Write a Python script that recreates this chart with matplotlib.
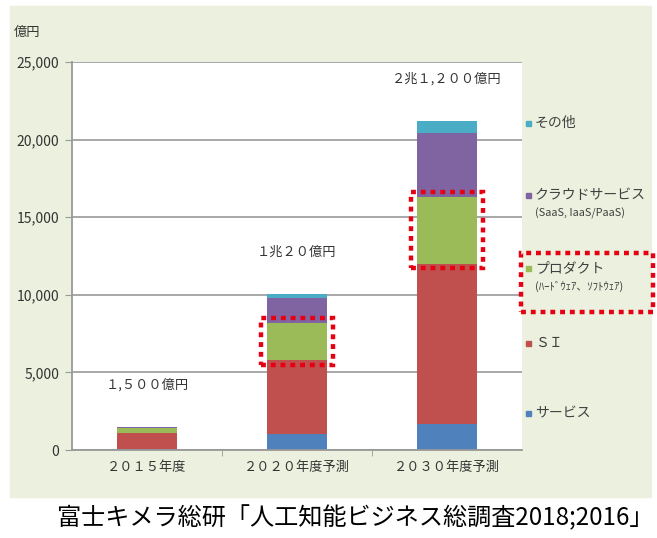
import matplotlib.pyplot as plt
from matplotlib.patches import Rectangle

plt.rcParams['font.family'] = ['Noto Sans CJK JP', 'DejaVu Sans']

# 市場規模（億円）
years = ['２０１５年度', '２０２０年度予測', '２０３０年度予測']
service = [50, 1000, 1700]
si = [1050, 4800, 10300]
product = [320, 2400, 4300]
cloud = [60, 1620, 4150]
other = [20, 200, 750]
totals = [1500, 10020, 21200]
total_labels = ['１,５００億円', '１兆２０億円', '２兆１,２００億円']

series = [
    ('サービス', service, '#4f81bd'),
    ('ＳＩ', si, '#c0504d'),
    ('プロダクト', product, '#9bbb59'),
    ('クラウドサービス', cloud, '#8064a2'),
    ('その他', other, '#4bacc6'),
]
legend_sub = {'クラウドサービス': '(SaaS, IaaS/PaaS)',
              'プロダクト': '(ﾊｰﾄﾞｳｪｱ、ｿﾌﾄｳｪｱ)'}

W, H = 657, 538
fig = plt.figure(figsize=(W / 100, H / 100), dpi=100)
fig.patch.set_facecolor('white')

# light green chart panel
fig.patches.append(Rectangle((10 / W, 41 / H), 641 / W, 491 / H,
                             transform=fig.transFigure, color='#ebf1de', zorder=-5))

ax = fig.add_axes([72 / W, 88 / H, 450 / W, 388 / H])
ax.set_facecolor('white')

x = range(len(years))
bottom = [0] * len(years)
for name, vals, color in series:
    ax.bar(x, vals, width=0.4, bottom=bottom, color=color, zorder=2)
    bottom = [b + v for b, v in zip(bottom, vals)]

ax.set_xlim(-0.5, 2.5)
ax.set_ylim(0, 25000)
ax.set_yticks(range(0, 25001, 5000))
ax.set_yticklabels([f'{v:,}' for v in range(0, 25001, 5000)])
ax.set_xticks(list(x))
ax.set_xticklabels(years)
ax.set_xticks([0.5, 1.5], minor=True)
ax.tick_params(axis='x', which='major', length=0, pad=8, labelsize=9.5, colors='#333333')
ax.tick_params(axis='x', which='minor', length=4, color='#999999')
ax.tick_params(axis='y', length=5, color='#999999', labelsize=10, colors='#333333', pad=4)
ax.yaxis.grid(True, color='#a0a0a0', lw=1.3, zorder=1)
for s in ('top', 'right'):
    ax.spines[s].set_visible(False)
for s in ('left', 'bottom'):
    ax.spines[s].set_color('#999999')
    ax.spines[s].set_linewidth(1.3)

ax.text(-0.1, 1.06, '億円', transform=ax.transAxes, ha='center', va='bottom',
        fontsize=9.5, color='#333333')

# total labels above each bar
for i, (t, lab) in enumerate(zip(totals, total_labels)):
    ax.text(i, t + 2700, lab, ha='center', va='center', fontsize=9.5, color='#333333',
            bbox=dict(boxstyle='square,pad=0.35', fc='white', ec='none'), zorder=4,
            clip_on=False)

# red dotted highlight around the product segments
prod_base = [s + q for s, q in zip(service, si)]
for i in (1, 2):
    ax.add_patch(Rectangle((i - 0.24, prod_base[i] - 300), 0.48, product[i] + 600,
                           fill=False, ec='#e60012', lw=3.2, ls=(0, (1.1, 1.1)),
                           zorder=5, clip_on=False))

# legend on the right
legend_y = {'その他': 123, 'クラウドサービス': 195, 'プロダクト': 268, 'ＳＩ': 343, 'サービス': 413}
for name, vals, color in series:
    yp = legend_y[name]
    fig.patches.append(Rectangle((526 / W, (H - yp - 3) / H), 5 / W, 5 / H,
                                 transform=fig.transFigure, color=color, zorder=3))
    fig.text(535 / W, (H - yp) / H, name, ha='left', va='center', fontsize=10,
             color='#404040')
    if name in legend_sub:
        fig.text(535 / W, (H - yp - 18) / H, legend_sub[name], ha='left', va='center',
                 fontsize=7.8, color='#404040')

fig.patches.append(Rectangle((521 / W, (H - 312) / H), 132 / W, 59 / H,
                             transform=fig.transFigure, fill=False, ec='#e60012',
                             lw=3.2, ls=(0, (1.1, 1.1)), zorder=5))

fig.text(355 / W, (H - 518) / H, '富士キメラ総研「人工知能ビジネス総調査2018;2016」',
         ha='center', va='center', fontsize=17.4, color='black')

fig.savefig('out.png', dpi=100)
